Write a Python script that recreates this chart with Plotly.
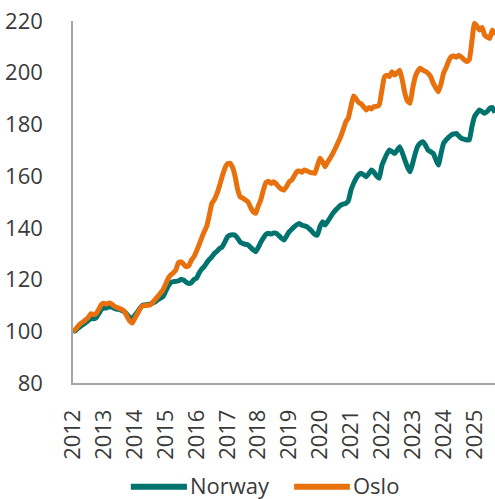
import pandas as pd
import plotly.graph_objects as go

# Monthly house price index, January 2012 = 100
months = pd.date_range("2012-01-01", periods=165, freq="MS")

norway = [
    100.0, 100.3, 101.2, 102.0, 102.6, 103.4, 104.2, 105.0, 104.8, 105.2, 106.8, 108.4,
    109.0, 109.0, 109.5, 109.4, 108.9, 108.5, 108.5, 108.0, 107.5, 106.5, 105.4, 105.0,
    106.2, 107.5, 108.8, 110.0, 110.2, 110.4, 110.5, 110.9, 111.5, 112.2, 112.8, 113.4,
    115.5, 117.5, 118.8, 119.2, 119.3, 119.5, 120.0, 119.8, 119.0, 118.5, 118.8, 120.0,
    120.5, 122.5, 124.0, 125.0, 126.5, 127.8, 128.8, 130.2, 131.0, 132.0, 132.7, 134.5,
    136.5, 137.2, 137.3, 137.2, 136.0, 134.5, 134.0, 133.6, 133.4, 132.5, 131.5, 130.8,
    132.5, 134.5, 136.0, 137.5, 137.9, 137.6, 138.0, 137.9, 137.0, 136.0, 135.3, 136.8,
    138.5, 139.5, 140.4, 141.2, 141.7, 141.0, 140.8, 140.4, 139.5, 138.5, 137.5, 137.2,
    140.5, 142.4, 141.1, 142.5, 144.0, 145.6, 146.8, 147.8, 148.8, 149.2, 149.5, 150.5,
    154.5, 157.2, 159.0, 160.5, 161.1, 160.5, 159.8, 161.0, 162.4, 161.5, 160.0, 159.2,
    164.0, 166.5, 168.5, 170.1, 169.5, 168.8, 170.0, 171.4, 169.0, 166.2, 163.5, 161.7,
    165.0, 168.8, 171.5, 172.8, 173.3, 172.0, 170.1, 169.5, 168.8, 166.5, 164.3, 168.5,
    172.7, 174.0, 175.0, 175.9, 176.3, 176.5, 175.5, 174.6, 174.3, 174.0, 174.0, 179.0,
    183.0, 184.5, 185.6, 185.0, 184.3, 185.0, 186.2, 186.5, 184.5,
]

oslo = [
    100.0, 100.8, 102.0, 103.0, 103.7, 104.5, 105.5, 106.8, 106.5, 106.8, 108.5, 110.3,
    110.8, 110.5, 110.9, 110.6, 109.8, 109.2, 108.9, 108.5, 107.6, 105.8, 104.0, 103.2,
    105.0, 106.8, 108.5, 109.8, 110.0, 110.1, 110.2, 111.2, 112.4, 113.5, 114.8, 116.0,
    118.2, 120.5, 121.8, 122.6, 123.7, 126.5, 126.9, 126.0, 125.0, 125.3, 127.5, 128.8,
    131.0, 133.5, 136.0, 138.5, 140.6, 145.0, 149.5, 151.0, 153.4, 156.5, 160.0, 163.0,
    164.8, 165.0, 163.5, 160.0, 155.0, 152.0, 151.5, 150.8, 150.0, 148.0, 146.2, 145.6,
    148.5, 151.0, 154.5, 157.5, 158.0, 157.2, 157.8, 157.0, 155.8, 155.0, 154.6, 156.0,
    157.8, 158.5, 160.0, 161.7, 162.0, 161.5, 162.4, 162.0, 161.5, 161.3, 161.1, 164.0,
    166.9, 165.5, 163.6, 165.5, 167.0, 168.8, 170.8, 173.0, 175.2, 178.0, 181.0, 182.5,
    187.0, 191.0, 190.0, 188.5, 188.0, 186.8, 185.6, 186.5, 186.0, 186.9, 187.0, 187.5,
    193.0, 198.4, 199.0, 198.5, 200.4, 199.1, 200.0, 201.0, 197.0, 192.0, 189.0, 188.2,
    194.0, 198.4, 200.5, 201.7, 201.0, 200.5, 199.8, 198.5, 196.0, 194.2, 192.6, 195.5,
    199.8, 202.0, 204.5, 206.2, 206.5, 206.0, 206.8, 206.0, 205.0, 204.3, 205.0, 212.0,
    219.1, 218.0, 216.5, 217.5, 214.6, 213.8, 213.3, 216.5, 214.6,
]

series_names = ["Norway", "Oslo"]
series_values = [norway, oslo]
series_colors = ["#00736F", "#E8700D"]

FONT = "Open Sans, Noto Sans, sans-serif"
TEXT = "#3a3a3a"

fig = go.Figure()
for name, values, color in zip(series_names, series_values, series_colors):
    fig.add_trace(go.Scatter(
        x=months, y=values, name=name, mode="lines",
        line=dict(color=color, width=5, shape="spline", smoothing=0.4),
        showlegend=False,
    ))

# Legend below the axis, with long colour keys
legend_y = -0.2865
text_y = -0.283
key_spans = [(0.137, 0.270), (0.524, 0.656)]
for (x0, x1), name, color in zip(key_spans, series_names, series_colors):
    fig.add_shape(
        type="line", xref="paper", yref="paper",
        x0=x0, x1=x1, y0=legend_y, y1=legend_y,
        line=dict(color=color, width=6),
    )
    fig.add_annotation(
        xref="paper", yref="paper", x=x1 + 0.004, y=text_y,
        xanchor="left", yanchor="middle", showarrow=False,
        text=name, font=dict(family=FONT, size=22, color=TEXT),
        borderpad=0,
    )

fig.update_layout(
    width=495, height=499,
    margin=dict(l=73, r=0, t=21, b=116),
    paper_bgcolor="white", plot_bgcolor="white",
    font=dict(family=FONT, size=22, color=TEXT),
    showlegend=False,
)

fig.update_xaxes(
    type="date", range=[months[0], months[-1]],
    tick0="2012-01-01", dtick="M12", tickformat="%Y", tickangle=-90,
    showgrid=False, zeroline=False,
    showline=True, linecolor="#a6a6a6", linewidth=1.5,
    ticks="", ticklabelstandoff=16,
)
fig.update_yaxes(
    range=[80, 220], dtick=20,
    showgrid=False, zeroline=False,
    showline=True, linecolor="#a6a6a6", linewidth=1.5,
    ticks="", ticklabelstandoff=24,
)

fig.write_html("out.html")
